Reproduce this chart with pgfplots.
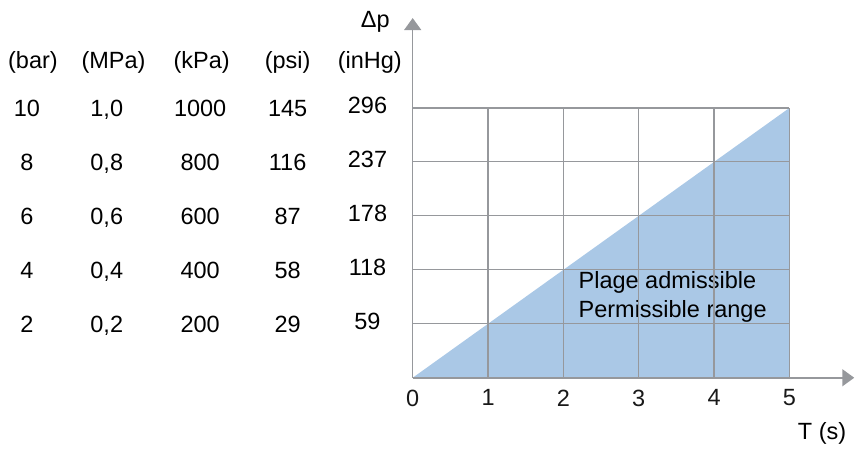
\documentclass[border=0pt]{standalone}
\usepackage{pgfplots}
\pgfplotsset{compat=1.18}
\usepackage{fontspec}
\setmainfont{Liberation Sans}
\usetikzlibrary{arrows.meta}
\definecolor{axgray}{RGB}{150,152,156}
\definecolor{fillblue}{RGB}{170,200,230}
\definecolor{txt}{RGB}{25,25,25}
\tikzset{tv/.style={anchor=base, inner sep=0pt}}
\begin{document}
\fontsize{23.5}{29}\selectfont
\begin{tikzpicture}
\begin{axis}[
  scale only axis,
  width=377pt, height=270pt,
  xmin=0, xmax=5, ymin=0, ymax=10,
  clip=false,
  axis on top,
  axis line style={draw=none},
  xtick={0,1,2,3,4,5},
  ytick={0,2,4,6,8,10},
  yticklabels={},
  major tick length=0pt,
  grid=major,
  major grid style={axgray, line width=1.2pt},
  ticklabel style={font=\fontsize{23.5}{29}\selectfont, text=txt},
  /pgf/number format/assume math mode=true,
  xticklabel style={yshift=-4pt},
  every node/.append style={text=txt},
]
\addplot[fill=fillblue, draw=none] coordinates {(0,0) (5,10) (5,0)} \closedcycle;
% axes with arrows
\draw[axgray, line width=1.5pt, -{Triangle[width=17pt,length=12pt]}] (axis cs:0,0) -- (axis cs:5.86,0);
\draw[axgray, line width=1.5pt, -{Triangle[width=17pt,length=12pt]}] (axis cs:0,0) -- (axis cs:0,13.33);
\node[anchor=east] at (axis cs:-0.2,13.2) {Δp};
\node[anchor=north east] at (axis cs:5.86,-1.35) {T (s)};
\node[anchor=west, align=left, inner sep=0pt] at (axis cs:2.2,2.98) {Plage admissible\\Permissible range};
% unit table
\node at (axis cs:-5.04,11.7) {(bar)};
\node at (axis cs:-3.97,11.7) {(MPa)};
\node at (axis cs:-2.8,11.7) {(kPa)};
\node at (axis cs:-1.66,11.7) {(psi)};
\node at (axis cs:-0.57,11.7) {(inHg)};
\node[tv] at (axis cs:-5.12,9.69) {10};
\node[tv] at (axis cs:-4.06,9.69) {1,0};
\node[tv] at (axis cs:-2.82,9.69) {1000};
\node[tv] at (axis cs:-1.66,9.69) {145};
\node[tv] at (axis cs:-0.6,9.79) {296};
\node[tv] at (axis cs:-5.12,7.69) {8};
\node[tv] at (axis cs:-4.06,7.69) {0,8};
\node[tv] at (axis cs:-2.82,7.69) {800};
\node[tv] at (axis cs:-1.66,7.69) {116};
\node[tv] at (axis cs:-0.6,7.79) {237};
\node[tv] at (axis cs:-5.12,5.69) {6};
\node[tv] at (axis cs:-4.06,5.69) {0,6};
\node[tv] at (axis cs:-2.82,5.69) {600};
\node[tv] at (axis cs:-1.66,5.69) {87};
\node[tv] at (axis cs:-0.6,5.79) {178};
\node[tv] at (axis cs:-5.12,3.69) {4};
\node[tv] at (axis cs:-4.06,3.69) {0,4};
\node[tv] at (axis cs:-2.82,3.69) {400};
\node[tv] at (axis cs:-1.66,3.69) {58};
\node[tv] at (axis cs:-0.6,3.79) {118};
\node[tv] at (axis cs:-5.12,1.69) {2};
\node[tv] at (axis cs:-4.06,1.69) {0,2};
\node[tv] at (axis cs:-2.82,1.69) {200};
\node[tv] at (axis cs:-1.66,1.69) {29};
\node[tv] at (axis cs:-0.6,1.79) {59};
\path (axis cs:-5.477,14) rectangle (axis cs:5.862,-2.333);
\end{axis}
\end{tikzpicture}
\end{document}
